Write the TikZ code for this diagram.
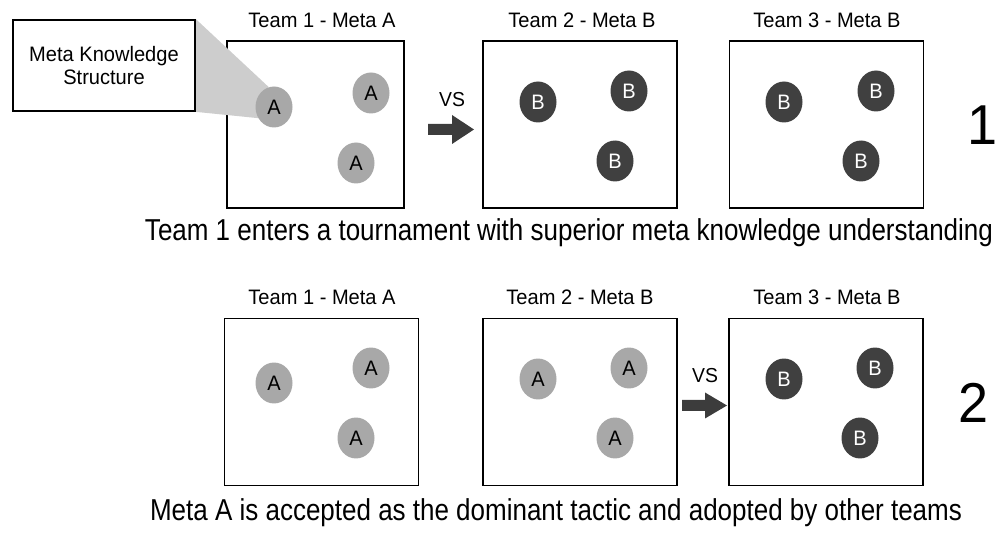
\documentclass[tikz,border=0pt]{standalone}
\usepackage{fontspec}
\setmainfont{Liberation Sans}
\newfontfamily\capfont[FakeStretch=0.86]{Liberation Sans}
\newfontfamily\lblfont[FakeStretch=0.96]{Liberation Sans}
\usetikzlibrary{shapes.geometric}
\pgfdeclarelayer{boxes}
\pgfdeclarelayer{callout}
\pgfsetlayers{boxes,callout,main}
\definecolor{tokAfill}{HTML}{A8A8A8}
\definecolor{tokBfill}{HTML}{404040}
\definecolor{wedgefill}{HTML}{CDCDCD}
\definecolor{arrowfill}{HTML}{3C3C3C}
\tikzset{
  panel/.style={draw=black, line width=1pt, inner sep=0pt, minimum height=3.34cm},
  panelN/.style={panel, minimum width=3.54cm},
  panelW/.style={panel, minimum width=3.88cm},
  mtitle/.style={anchor=base, inner sep=0pt, font=\lblfont\fontsize{11.9}{14}\selectfont},
  token/.style={ellipse, inner sep=0pt, minimum width=0.74cm, minimum height=0.82cm,
                font=\lblfont\fontsize{11.9}{14}\selectfont},
  tokA/.style={token, fill=tokAfill, text=black},
  tokB/.style={token, fill=tokBfill, text=white},
  vslabel/.style={anchor=base, inner sep=0pt, font=\lblfont\fontsize{11.5}{14}\selectfont},
  caption/.style={anchor=base, inner sep=0pt, font=\capfont\fontsize{17.2}{20}\selectfont},
  stagenum/.style={anchor=base, inner sep=0pt, font=\lblfont\fontsize{32}{36}\selectfont},
  blockarrow/.style={fill=arrowfill}
}
\begin{document}
\begin{tikzpicture}[x=0.02cm, y=-0.02cm]
\useasboundingbox (0,0) rectangle (1000,536);

% ---------- stage 1 ----------
\begin{pgfonlayer}{boxes}
\node[panelN] (p11) at (315.5,124.5) {};
\node[panelW] (p12) at (580,124.5) {};
\node[panelW] (p13) at (826.5,124.5) {};
\end{pgfonlayer}
\node[mtitle] (t11) at (322,28) {Team 1 - Meta A};
\node[mtitle] (t12) at (582,28) {Team 2 - Meta B};
\node[mtitle] (t13) at (827,28) {Team 3 - Meta B};

\node[tokA] (a11) at (274,107) {A};
\node[tokA] (a12) at (371,93) {A};
\node[tokA] (a13) at (356,163) {A};

\node[tokB] (b11) at (538,102) {B};
\node[tokB] (b12) at (629,91) {B};
\node[tokB] (b13) at (615,161) {B};

\node[tokB] (b14) at (784,102) {B};
\node[tokB] (b15) at (876,91) {B};
\node[tokB] (b16) at (861,161) {B};

% knowledge callout
\node[draw=black, line width=1pt, fill=white, minimum width=3.64cm, minimum height=1.82cm,
      align=center, font=\lblfont\fontsize{11.9}{13}\selectfont] (mks) at (104,65.5)
      {Meta Knowledge\\Structure};
\begin{pgfonlayer}{callout}
\fill[wedgefill] (mks.north east) -- (a11.105) -- (a11.215) -- (mks.south east) -- cycle;
\end{pgfonlayer}

% versus arrow
\node[vslabel] (vs1) at (452,107) {VS};
\coordinate (v1) at (428,129.5);
\fill[blockarrow] (v1) ++(0,-5.5) -- ++(24,0) -- ++(0,-9) -- ++(22,14.5) -- ++(-22,14.5)
      -- ++(0,-9) -- ++(-24,0) -- cycle;

\node[stagenum] (n1) at (982,145) {1};
\node[caption] (c1) at (569,241) {Team 1 enters a tournament with superior meta knowledge understanding};

% ---------- stage 2 ----------
\begin{pgfonlayer}{boxes}
\node[panelW] (p21) at (321.5,402) {};
\node[panelW] (p22) at (580,402) {};
\node[panelW] (p23) at (826,402) {};
\end{pgfonlayer}
\node[mtitle] (t21) at (322,305) {Team 1 - Meta A};
\node[mtitle] (t22) at (580,305) {Team 2 - Meta B};
\node[mtitle] (t23) at (827,305) {Team 3 - Meta B};

\node[tokA] (a21) at (274,383) {A};
\node[tokA] (a22) at (371,368) {A};
\node[tokA] (a23) at (356,438) {A};

\node[tokA] (a24) at (538,379) {A};
\node[tokA] (a25) at (629,368) {A};
\node[tokA] (a26) at (615,438) {A};

\node[tokB] (b21) at (784,379) {B};
\node[tokB] (b22) at (875,368) {B};
\node[tokB] (b23) at (860,438) {B};

\node[vslabel] (vs2) at (705,383) {VS};
\coordinate (v2) at (682,405.5);
\fill[blockarrow] (v2) ++(0,-5.5) -- ++(23,0) -- ++(0,-7.5) -- ++(22,13) -- ++(-22,13)
      -- ++(0,-7.5) -- ++(-23,0) -- cycle;

\node[stagenum] (n2) at (973,422) {2};
\node[caption] (c2) at (556,520)
      {Meta A is accepted as the dominant tactic and adopted by other teams};
\end{tikzpicture}
\end{document}
